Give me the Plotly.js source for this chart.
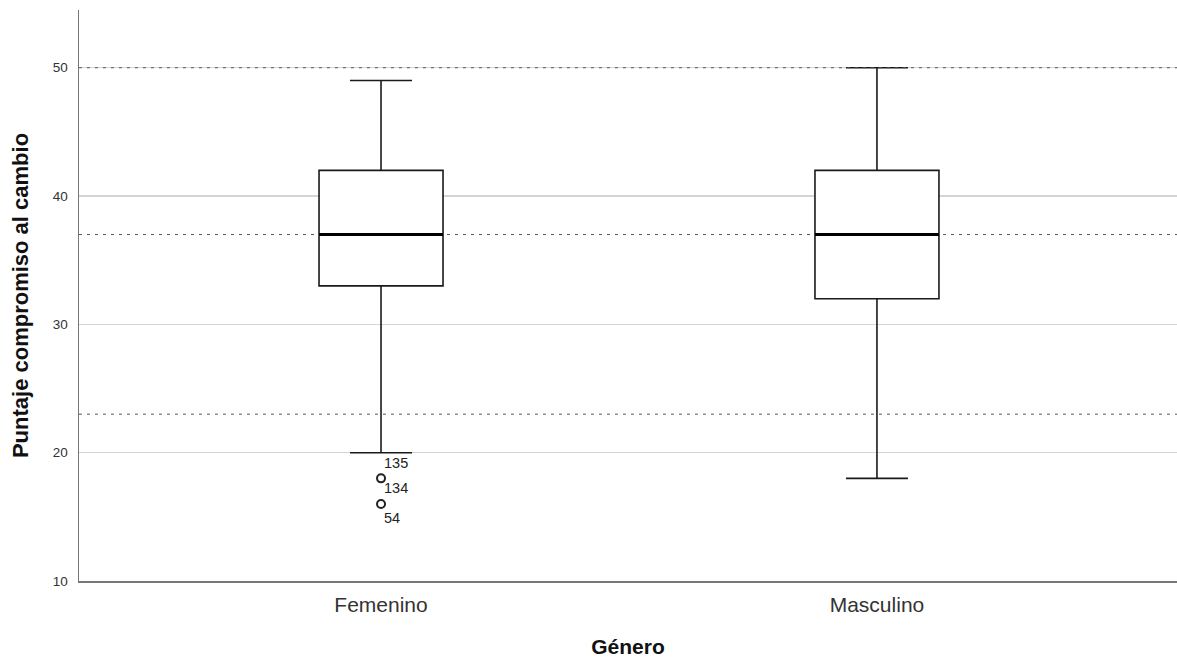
<!DOCTYPE html>
<html>
<head>
<meta charset="utf-8">
<script src="https://cdn.plot.ly/plotly-3.0.1.min.js"></script>
<style>html,body{margin:0;padding:0;background:#fff;}#chart{width:1177px;height:664px;}</style>
</head>
<body>
<div id="chart"></div>
<script>
// ---- data ----
const categories = ['Femenino', 'Masculino'];
const lowerWhisker = [20, 18];
const q1Values = [33, 32];
const medianValues = [37, 37];
const q3Values = [42, 42];
const upperWhisker = [49, 50];
const outlierCategory = ['Femenino', 'Femenino'];
const outlierValues = [18, 16];
const caseLabelCategory = ['Femenino', 'Femenino', 'Femenino'];
const caseLabelValues = [20, 18, 16];
const caseLabels = ['135', '134', '54'];
const referenceLines = [50, 37, 23];
const yTicks = [10, 20, 30, 40, 50];

const boxWidth = 0.25;

const traces = [
  {
    type: 'box',
    x: categories,
    q1: q1Values,
    median: medianValues,
    q3: q3Values,
    lowerfence: lowerWhisker,
    upperfence: upperWhisker,
    boxpoints: false,
    width: boxWidth,
    whiskerwidth: 0.5,
    fillcolor: '#ffffff',
    line: {color: '#1a1a1a', width: 1.6},
    hoverinfo: 'skip',
    showlegend: false
  },
  {
    type: 'scatter',
    mode: 'markers',
    x: outlierCategory,
    y: outlierValues,
    marker: {symbol: 'circle-open', size: 8, color: '#222222', line: {width: 2, color: '#222222'}},
    hoverinfo: 'skip',
    showlegend: false
  }
];

const shapes = [];
referenceLines.forEach(v => shapes.push({
  type: 'line', xref: 'paper', yref: 'y', x0: 0, x1: 1, y0: v, y1: v,
  line: {color: '#555555', width: 1, dash: '3px,5px'}, layer: 'above'
}));
// thick median lines
medianValues.forEach((m, i) => shapes.push({
  type: 'line', xref: 'x', yref: 'y', x0: i - boxWidth / 2, x1: i + boxWidth / 2, y0: m, y1: m,
  line: {color: '#000000', width: 3}, layer: 'above'
}));

const annotations = caseLabels.map((t, i) => ({
  x: categories.indexOf(caseLabelCategory[i]), y: caseLabelValues[i], xref: 'x', yref: 'y',
  text: t, showarrow: false, xanchor: 'left', yanchor: 'middle', xshift: 1, yshift: i === 2 ? -14 : -10,
  font: {family: 'Liberation Sans, Arial, sans-serif', size: 14.5, color: '#222222'}
}));

const layout = {
  width: 1177, height: 664,
  margin: {l: 79, r: 0, t: 10, b: 83},
  paper_bgcolor: '#ffffff', plot_bgcolor: '#ffffff',
  showlegend: false,
  font: {family: 'Liberation Sans, Arial, sans-serif', color: '#222222'},
  xaxis: {
    type: 'category',
    range: [-0.609, 1.605],
    showgrid: false, zeroline: false,
    showline: true, linecolor: '#777777', linewidth: 1.5,
    ticks: '', ticklabelstandoff: 4, tickfont: {size: 21, color: '#333333'},
    title: {text: '<b>Género</b>', font: {size: 21, color: '#111111'}, standoff: 24}
  },
  yaxis: {
    range: [10, 54.5],
    tickvals: yTicks,
    showgrid: true, gridcolor: '#d4d4d4', gridwidth: 1.5,
    zeroline: false,
    showline: true, linecolor: '#777777', linewidth: 1.5,
    ticks: '', ticklabelstandoff: 7, tickfont: {size: 13.5, color: '#333333'},
    title: {text: '<b>Puntaje compromiso al cambio</b>', font: {size: 22, color: '#111111'}, standoff: 18}
  },
  shapes: shapes,
  annotations: annotations
};

Plotly.newPlot('chart', traces, layout, {displayModeBar: false, staticPlot: true});
</script>
</body>
</html>
